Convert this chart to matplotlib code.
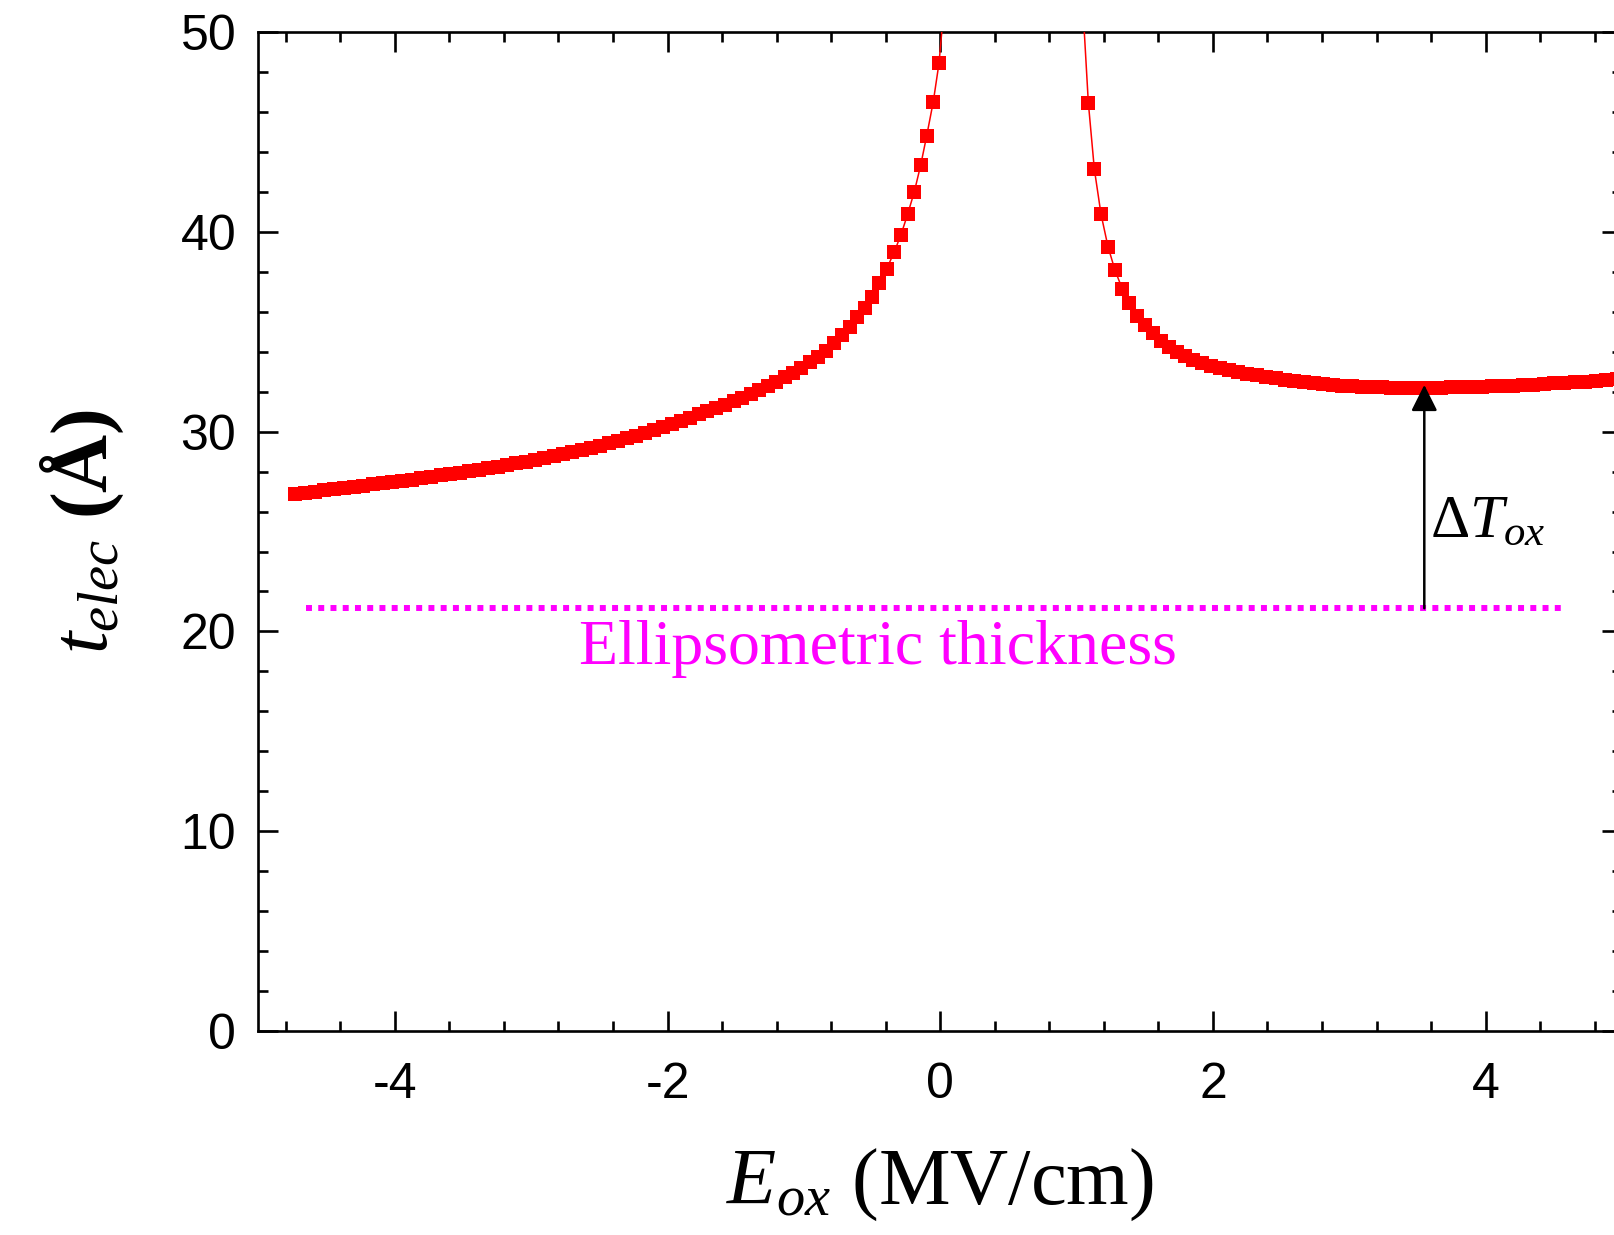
import matplotlib
matplotlib.use("Agg")
import matplotlib.pyplot as plt
from matplotlib.ticker import MultipleLocator

plt.rcParams['font.family'] = ['Liberation Sans', 'DejaVu Sans']
plt.rcParams['mathtext.fontset'] = 'custom'
plt.rcParams['mathtext.rm'] = 'Liberation Serif'
plt.rcParams['mathtext.it'] = 'Liberation Serif:italic'
plt.rcParams['mathtext.bf'] = 'Liberation Serif:bold'
plt.rcParams['axes.unicode_minus'] = False

# negative field branch (E_ox in MV/cm, t_elec in Angstrom)
e_left = [-4.732, -4.660, -4.588, -4.516, -4.444, -4.373, -4.302, -4.231, -4.160, -4.089,
          -4.018, -3.947, -3.876, -3.805, -3.735, -3.665, -3.595, -3.525, -3.455, -3.385,
          -3.316, -3.247, -3.178, -3.109, -3.040, -2.971, -2.903, -2.835, -2.767, -2.699,
          -2.631, -2.564, -2.497, -2.430, -2.363, -2.296, -2.230, -2.164, -2.098, -2.032,
          -1.967, -1.902, -1.837, -1.772, -1.708, -1.644, -1.580, -1.516, -1.453, -1.390,
          -1.327, -1.265, -1.203, -1.141, -1.080, -1.019, -0.958, -0.898, -0.838, -0.779,
          -0.721, -0.662, -0.608, -0.552, -0.498, -0.447, -0.393, -0.339, -0.288, -0.239,
          -0.190, -0.143, -0.099, -0.051, -0.009, 0.030]
t_left = [26.88, 26.94, 27.00, 27.06, 27.12, 27.18, 27.24, 27.30, 27.36, 27.42,
          27.48, 27.54, 27.60, 27.67, 27.74, 27.81, 27.88, 27.95, 28.02, 28.10,
          28.18, 28.26, 28.34, 28.42, 28.50, 28.59, 28.68, 28.78, 28.88, 28.98,
          29.09, 29.20, 29.31, 29.43, 29.55, 29.67, 29.80, 29.94, 30.08, 30.23,
          30.39, 30.55, 30.71, 30.87, 31.03, 31.19, 31.35, 31.52, 31.69, 31.87,
          32.10, 32.30, 32.51, 32.73, 32.95, 33.20, 33.47, 33.75, 34.07, 34.44,
          34.85, 35.27, 35.74, 36.22, 36.77, 37.44, 38.16, 38.98, 39.87, 40.90,
          42.03, 43.37, 44.84, 46.54, 48.47, 51.50]

# positive field branch
e_right = [1.040, 1.086, 1.130, 1.179, 1.230, 1.282, 1.335, 1.387, 1.445, 1.502,
           1.560, 1.617, 1.675, 1.734, 1.795, 1.856, 1.917, 1.983, 2.050, 2.117,
           2.185, 2.253, 2.321, 2.390, 2.459, 2.528, 2.598, 2.668, 2.738, 2.808,
           2.879, 2.950, 3.021, 3.093, 3.165, 3.237, 3.309, 3.382, 3.455, 3.528,
           3.601, 3.675, 3.749, 3.823, 3.897, 3.972, 4.047, 4.122, 4.197, 4.273,
           4.349, 4.425, 4.501, 4.578, 4.655, 4.732, 4.809, 4.886, 4.963, 5.040]
t_right = [52.00, 46.49, 43.16, 40.90, 39.28, 38.08, 37.16, 36.44, 35.82, 35.34,
           34.94, 34.57, 34.27, 34.02, 33.80, 33.60, 33.44, 33.30, 33.19, 33.09,
           33.00, 32.91, 32.82, 32.74, 32.67, 32.60, 32.53, 32.47, 32.42, 32.38,
           32.34, 32.30, 32.27, 32.25, 32.23, 32.22, 32.21, 32.21, 32.20, 32.20,
           32.21, 32.21, 32.22, 32.23, 32.24, 32.25, 32.27, 32.29, 32.31, 32.33,
           32.36, 32.39, 32.42, 32.45, 32.48, 32.51, 32.55, 32.58, 32.62, 32.65]

t_ellips = 21.16
ellips_range = [-4.65, 4.57]
e_arrow = 3.55
t_arrow_top = 32.35

fig = plt.figure(figsize=(16.14, 12.35), dpi=100)
ax = fig.add_axes([0.16016, 0.16543, 0.84480, 0.80826])

for e, t in [(e_left, t_left), (e_right, t_right)]:
    ax.plot(e, t, color='red', lw=1.1, marker='s', markersize=10.3,
            markeredgewidth=0, zorder=3)

# ellipsometric thickness
ax.plot(ellips_range, [t_ellips, t_ellips], color='#ff00ff', lw=4.3,
        linestyle=(0, (1, 1.05)), dash_capstyle='butt', zorder=2)
ax.text(-0.457, 18.37, 'Ellipsometric thickness', color='#ff00ff',
        fontsize=46, family='Liberation Serif', ha='center', va='baseline')

# delta T_ox arrow
ax.annotate('', xy=(e_arrow, t_arrow_top), xytext=(e_arrow, t_ellips),
            arrowprops=dict(arrowstyle='-|>,head_length=0.8,head_width=0.4',
                            color='black', lw=1.8, mutation_scale=20,
                            shrinkA=0, shrinkB=0), zorder=4)
ax.text(3.59, 24.73, r'$\Delta T_{ox}$', fontsize=44, ha='left', va='baseline')

ax.set_xlim(-5, 5)
ax.set_ylim(0, 50)
ax.xaxis.set_major_locator(MultipleLocator(2))
ax.xaxis.set_minor_locator(MultipleLocator(0.4))
ax.yaxis.set_major_locator(MultipleLocator(10))
ax.yaxis.set_minor_locator(MultipleLocator(2))
ax.tick_params(which='both', direction='in', top=True, right=True, width=1.9)
ax.tick_params(which='major', length=14.5, labelsize=36)
ax.tick_params(axis='x', which='major', pad=22.5)
ax.tick_params(axis='y', which='major', pad=16)
ax.tick_params(which='minor', length=7.5)
for s in ax.spines.values():
    s.set_linewidth(1.9)

ax.set_xlabel(r'$E_{ox}$ (MV/cm)', fontsize=58, family='Liberation Serif', labelpad=28)
ax.set_ylabel(r'$t_{elec}$ $\mathbf{(Å)}$', fontsize=58, family='Liberation Serif', labelpad=39)

fig.savefig('out.png', dpi=100)
